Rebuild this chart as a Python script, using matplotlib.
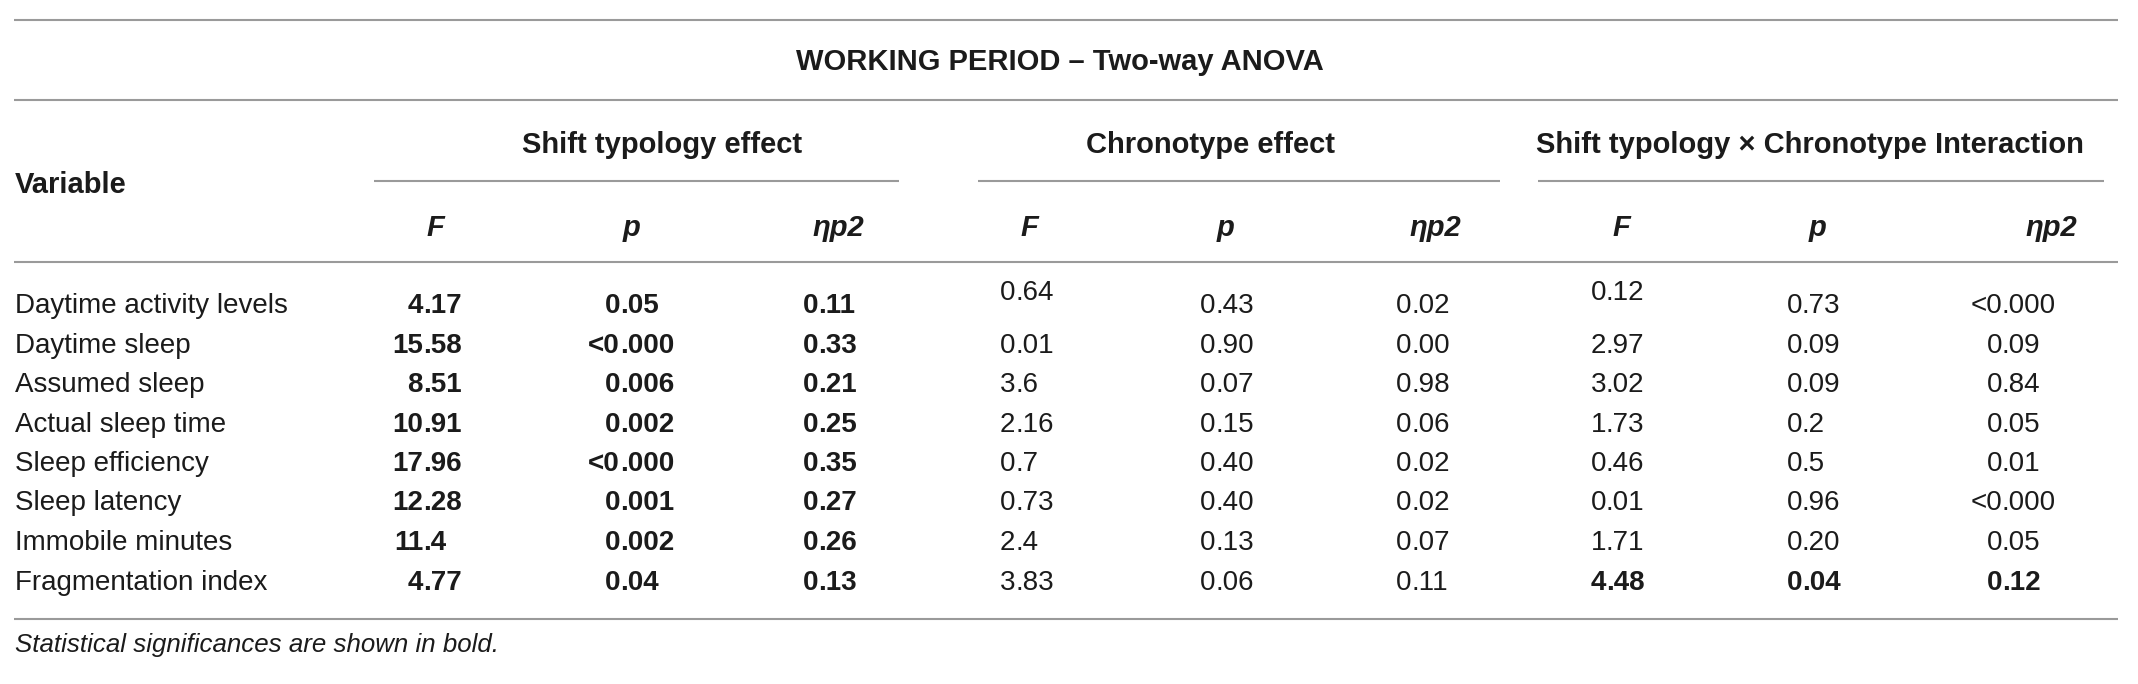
import matplotlib
matplotlib.use("Agg")
import matplotlib.pyplot as plt

# ---------------- data ----------------
title = "WORKING PERIOD \u2013 Two-way ANOVA"
groups = ["Shift typology effect", "Chronotype effect",
          "Shift typology \u00d7 Chronotype Interaction"]
col_labels = ["F", "p", "\u03b7p2"]
variables = ["Daytime activity levels", "Daytime sleep", "Assumed sleep",
             "Actual sleep time", "Sleep efficiency", "Sleep latency",
             "Immobile minutes", "Fragmentation index"]
shift_F = ["4.17", "15.58", "8.51", "10.91", "17.96", "12.28", "11.4", "4.77"]
shift_p = ["0.05", "<0.000", "0.006", "0.002", "<0.000", "0.001", "0.002", "0.04"]
shift_eta = ["0.11", "0.33", "0.21", "0.25", "0.35", "0.27", "0.26", "0.13"]
chrono_F = ["0.64", "0.01", "3.6", "2.16", "0.7", "0.73", "2.4", "3.83"]
chrono_p = ["0.43", "0.90", "0.07", "0.15", "0.40", "0.40", "0.13", "0.06"]
chrono_eta = ["0.02", "0.00", "0.98", "0.06", "0.02", "0.02", "0.07", "0.11"]
inter_F = ["0.12", "2.97", "3.02", "1.73", "0.46", "0.01", "1.71", "4.48"]
inter_p = ["0.73", "0.09", "0.09", "0.2", "0.5", "0.96", "0.20", "0.04"]
inter_eta = ["<0.000", "0.09", "0.84", "0.05", "0.01", "<0.000", "0.05", "0.12"]
shift_bold = [True] * 8
chrono_bold = [False] * 8
inter_bold = [False] * 7 + [True]
footnote = "Statistical significances are shown in bold."

# ---------------- layout ----------------
W, H = 2138, 684
DPI = 100
FS = 20.0
FS_HEAD = 21.0
FS_NOTE = 18.6
TXT = "#1b1b1b"
LINE = "#9a9a9a"
FONT = "Liberation Sans"

fig = plt.figure(figsize=(W / DPI, H / DPI), dpi=DPI)
ax = fig.add_axes([0, 0, 1, 1])
ax.set_xlim(0, W)
ax.set_ylim(H, 0)
ax.axis("off")

def txt(x, yc, s, ha="left", weight="normal", style="normal", size=FS):
    em = size * DPI / 72.0
    ax.text(x, yc + 0.358 * em, s, ha=ha, va="baseline", fontsize=size,
            fontweight=weight, fontstyle=style, color=TXT, family=FONT)

def hline(y, x0, x1):
    ax.plot([x0, x1], [y, y], color=LINE, lw=1.5, solid_capstyle="butt")

x_left, x_right = 14, 2118
hline(20, x_left, x_right)
hline(100, x_left, x_right)
hline(262, x_left, x_right)
hline(619, x_left, x_right)

txt(1060, 60, title, ha="center", weight="bold", size=FS_HEAD)

group_centers = [662, 1210, 1810]
underlines = [(374, 899), (978, 1500), (1538, 2104)]
for g, xc, (u0, u1) in zip(groups, group_centers, underlines):
    txt(xc, 143, g, ha="center", weight="bold", size=FS_HEAD)
    hline(181, u0, u1)

txt(15, 183, "Variable", weight="bold", size=FS_HEAD)

header_x = [435, 632, 838, 1029, 1226, 1435, 1621, 1818, 2051]
for i, xh in enumerate(header_x):
    txt(xh, 226, col_labels[i % 3], ha="center", weight="bold",
        style="italic", size=FS_HEAD)

row_y = [303, 343, 382, 422, 461, 500, 540, 580]
dec_x = [423, 620, 818, 1015, 1215, 1411, 1606, 1802, 2002]
columns = [shift_F, shift_p, shift_eta, chrono_F, chrono_p, chrono_eta,
           inter_F, inter_p, inter_eta]
bolds = [shift_bold] * 3 + [chrono_bold] * 3 + [inter_bold] * 3
raised_first = {3, 6}  # first-row F values sit slightly higher in the source

for r, (name, y) in enumerate(zip(variables, row_y)):
    txt(15, y, name)
    for c, (vals, bl, xd) in enumerate(zip(columns, bolds, dec_x)):
        s = vals[r]
        yy = y - 13 if (r == 0 and c in raised_first) else y
        w = "bold" if bl[r] else "normal"
        k = s.index(".")
        txt(xd, yy, s[:k], ha="right", weight=w)
        txt(xd, yy, s[k:], ha="left", weight=w)

txt(15, 643, footnote, style="italic", size=FS_NOTE)

fig.savefig("out.png", dpi=DPI)
